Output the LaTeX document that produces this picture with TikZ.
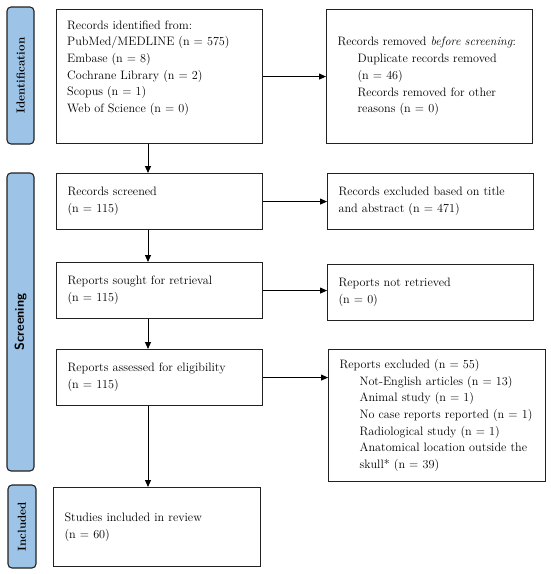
\documentclass[tikz,border=0pt]{standalone}
\usetikzlibrary{arrows.meta,calc}
\definecolor{labblue}{HTML}{9DC3E6}
\definecolor{edge}{HTML}{222222}
\begin{document}
\begin{tikzpicture}[x=1pt,y=-1pt,
  box/.style={draw=edge,line width=1.1pt,rectangle,anchor=north west,inner xsep=11pt,inner ysep=0pt,align=left,
    font=\fontsize{12.2}{16.7}\selectfont},
  txt/.style={inner sep=0pt,align=left,font=\fontsize{12.2}{16.7}\selectfont},
  lab/.style={draw=edge,line width=1.1pt,fill=labblue,rounded corners=4pt,rotate=90,inner sep=0pt},
  arr/.style={draw=black,line width=1pt,-{Triangle[length=7pt,width=6pt]}}]
\useasboundingbox (0,0) rectangle (550,574);
% phase labels
\node[lab,minimum width=137pt,minimum height=27pt,font=\fontsize{11.6}{13}\selectfont\bfseries] (lid) at (20.5,75.5) {Identification};
\node[lab,minimum width=298pt,minimum height=27pt,font=\fontsize{12.8}{14}\selectfont\sffamily\bfseries] (lsc) at (20.5,322) {Screening};
\node[lab,minimum width=83pt,minimum height=28pt,font=\fontsize{11.6}{13}\selectfont\bfseries] (lin) at (22,526.5) {Included};
% boxes
\node[box,minimum height=134pt,text width=184pt] (id) at (56,9) {};
\node[txt,anchor=west] (idt) at (67,68) {Records identified from:\\PubMed/MEDLINE (n = 575)\\Embase (n = 8)\\Cochrane Library (n = 2)\\Scopus (n = 1)\\Web of Science (n = 0)};
\node[box,minimum height=134pt,text width=184pt] (rem) at (326,9) {Records removed \emph{before screening}:\\\hspace*{20pt}Duplicate records removed\\\hspace*{20pt}(n = 46)\\\hspace*{20pt}Records removed for other\\\hspace*{20pt}reasons (n = 0)};
\node[box,minimum height=56pt,text width=184pt] (scr) at (56,173) {Records screened\\(n = 115)};
\node[box,minimum height=56pt,text width=184pt] (exc) at (327,173) {Records excluded based on title\\and abstract (n = 471)};
\node[box,minimum height=56pt,text width=184pt] (sou) at (56,262) {Reports sought for retrieval\\(n = 115)};
\node[box,minimum height=56pt,text width=184pt] (nre) at (327,264) {Reports not retrieved\\(n = 0)};
\node[box,minimum height=56pt,text width=184pt] (ass) at (56,349) {Reports assessed for eligibility\\(n = 115)};
\node[box,minimum height=132pt,text width=195pt] (rex) at (328,349) {Reports excluded (n = 55)\\\hspace*{20pt}Not-English articles (n = 13)\\\hspace*{20pt}Animal study (n = 1)\\\hspace*{20pt}No case reports reported (n = 1)\\\hspace*{20pt}Radiological study (n = 1)\\\hspace*{20pt}Anatomical location outside the\\\hspace*{20pt}skull* (n = 39)};
\node[box,minimum height=79pt,text width=185pt] (inc) at (53,487) {Studies included in review\\(n = 60)};
% connectors
\coordinate (col) at (148,0);
\draw[arr] (id.south -| col) -- (scr.north -| col);
\draw[arr] (scr.south -| col) -- (sou.north -| col);
\draw[arr] (sou.south -| col) -- (ass.north -| col);
\draw[arr] (ass.south -| col) -- (inc.north -| col);
\draw[arr] (id.east) -- (id.east -| rem.west);
\draw[arr] (scr.east) -- (scr.east -| exc.west);
\draw[arr] (sou.east) -- (sou.east -| nre.west);
\draw[arr] (ass.east) -- (ass.east -| rex.west);
\end{tikzpicture}
\end{document}
